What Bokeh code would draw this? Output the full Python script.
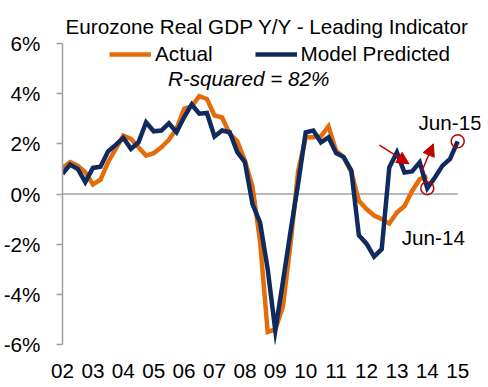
from bokeh.plotting import figure
from bokeh.models import (Range1d, FixedTicker, PrintfTickFormatter, Legend, LegendItem,
                          Label, Arrow, NormalHead)
from bokeh.embed import file_html
from bokeh.resources import INLINE

# ---- data (quarterly, Jun-02 .. Jun-15) ----
actual = [1.04, 1.27, 1.13, 0.87, 0.38, 0.57, 1.27, 1.80, 2.33, 2.20,
          1.86, 1.53, 1.63, 1.86, 2.16, 2.60, 3.40, 3.50, 3.90, 3.79,
          3.13, 3.05, 2.40, 2.10, 1.33, 0.30, -1.90, -5.50, -5.40, -4.50,
          -2.00, 0.90, 2.26, 2.26, 2.30, 2.70, 1.73, 1.47, 0.87, -0.27,
          -0.60, -0.86, -1.00, -1.18, -0.74, -0.48, 0.12, 0.59, 0.70]
model = [0.80, 1.17, 1.00, 0.47, 1.04, 1.09, 1.70, 1.96, 2.24, 1.80,
         2.06, 2.86, 2.50, 2.53, 2.82, 2.46, 3.06, 3.57, 3.20, 3.23,
         2.29, 2.53, 2.46, 1.67, 1.27, -0.40, -1.14, -3.00, -5.44, -3.50,
         -1.50, 0.40, 2.46, 2.53, 2.06, 2.26, 1.63, 1.47, 0.94, -1.65,
         -1.98, -2.50, -2.20, 1.06, 1.66, 0.86, 0.90, 1.26, 0.23, 0.66,
         1.13, 1.40, 2.10]
year_labels = ["02", "03", "04", "05", "06", "07", "08", "09", "10", "11",
               "12", "13", "14", "15"]
y_ticks = [-6, -4, -2, 0, 2, 4, 6]

ORANGE = "#E46C0A"
NAVY = "#0F2A5E"
RED = "#C00000"
GRAY = "#A0A0A0"
FONT = "Liberation Sans"
FS = "20.7px"

x_act = list(range(len(actual)))
x_mod = list(range(len(model)))

p = figure(width=488, height=387, output_backend="svg", toolbar_location=None,
           x_range=Range1d(0, 55.0), y_range=Range1d(-6, 6),
           min_border_left=59, min_border_right=8, min_border_top=43,
           min_border_bottom=43)
p.outline_line_color = None
p.xgrid.grid_line_color = None
p.ygrid.grid_line_color = None
p.background_fill_color = "white"
p.border_fill_color = "white"

# title
p.title.text = "Eurozone Real GDP Y/Y - Leading Indicator"
p.title.text_font = FONT
p.title.text_font_size = FS
p.title.text_font_style = "normal"
p.title.text_color = "black"
p.title.align = "left"
p.title.offset = 3
p.title.standoff = 11

# x axis
p.xaxis.ticker = FixedTicker(ticks=[4 * i for i in range(len(year_labels))])
p.xaxis.major_label_overrides = {4 * i: lab for i, lab in enumerate(year_labels)}
p.xaxis.axis_line_color = None
p.xaxis.major_tick_line_color = None
p.xaxis.minor_tick_line_color = None
p.xaxis.major_tick_out = 0
p.xaxis.major_label_standoff = 19
p.xaxis.major_label_text_font = FONT
p.xaxis.major_label_text_font_size = FS
p.xaxis.major_label_text_color = "black"

# y axis
p.yaxis.ticker = FixedTicker(ticks=y_ticks)
p.yaxis.formatter = PrintfTickFormatter(format="%d%%")
p.yaxis.axis_line_color = GRAY
p.yaxis.axis_line_width = 1.5
p.yaxis.major_tick_line_color = GRAY
p.yaxis.major_tick_line_width = 1.5
p.yaxis.major_tick_out = 6
p.yaxis.major_tick_in = 0
p.yaxis.minor_tick_line_color = None
p.yaxis.major_label_standoff = 16
p.yaxis.major_label_text_font = FONT
p.yaxis.major_label_text_font_size = FS
p.yaxis.major_label_text_color = "black"

# zero line across the category span
p.segment(x0=[0], y0=[0], x1=[len(model) - 1], y1=[0], line_color=GRAY, line_width=1.5)

r_act = p.line(x_act, actual, line_color=ORANGE, line_width=4.5, line_join="miter")
r_mod = p.line(x_mod, model, line_color=NAVY, line_width=4.5, line_join="miter")

legend = Legend(items=[LegendItem(label="Actual", renderers=[r_act]),
                       LegendItem(label="Model Predicted", renderers=[r_mod])],
                orientation="horizontal", location=(47, 278),
                glyph_width=42, glyph_height=16, label_height=16,
                label_standoff=4, spacing=42,
                padding=0, margin=0, border_line_color=None,
                background_fill_alpha=0, label_text_font=FONT,
                label_text_font_size=FS, label_text_color="black")
p.add_layout(legend, "center")

p.add_layout(Label(x=24.5, y=4.62, text="R-squared = 82%", text_font=FONT,
                   text_font_size=FS, text_font_style="italic",
                   text_align="center", text_baseline="middle", text_color="black"))

# annotations
last_m = len(model) - 1
last_a = len(actual) - 1
p.scatter([last_m, last_a], [model[last_m], model[last_a]], size=13,
          fill_color=None, line_color=RED, line_width=1.5)
p.add_layout(Label(x=51.0, y=2.87, text="Jun-15", text_font=FONT,
                   text_font_size=FS, text_align="center",
                   text_baseline="middle", text_color="black"))
p.add_layout(Label(x=48.8, y=-1.75, text="Jun-14", text_font=FONT,
                   text_font_size=FS, text_align="center",
                   text_baseline="middle", text_color="black"))
p.add_layout(Arrow(x_start=41.7, y_start=1.95, x_end=45.6, y_end=1.2,
                   line_color=RED, line_width=1.5,
                   end=NormalHead(size=12, fill_color=RED, line_color=RED)))
p.add_layout(Arrow(x_start=47.3, y_start=0.92, x_end=48.8, y_end=2.0,
                   line_color=RED, line_width=1.5,
                   end=NormalHead(size=12, fill_color=RED, line_color=RED)))

open("out.html", "w").write(file_html(p, INLINE))
